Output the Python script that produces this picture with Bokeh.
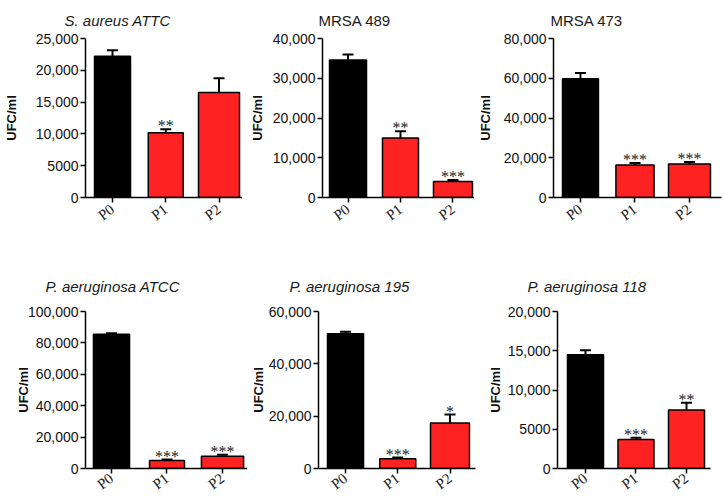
from bokeh.plotting import figure
from bokeh.layouts import column, row
from bokeh.models import (Range1d, FixedTicker, Whisker, TeeHead, ColumnDataSource,
                          LabelSet)
from bokeh.embed import file_html
from bokeh.resources import INLINE

# ---------------- data ----------------
categories = ["P0", "P1", "P2"]
y_label = "UFC/ml"

titles = ["S. aureus ATTC", "MRSA 489", "MRSA 473",
          "P. aeruginosa ATCC", "P. aeruginosa 195", "P. aeruginosa 118"]

means_sa_attc = [22200, 10200, 16500]
err_sa_attc = [950, 550, 2250]
stars_sa_attc = ["", "**", ""]
yticks_sa_attc = [0, 5000, 10000, 15000, 20000, 25000]
ylabels_sa_attc = ["0", "5000", "10,000", "15,000", "20,000", "25,000"]

means_mrsa489 = [34600, 15000, 4000]
err_mrsa489 = [1350, 1650, 400]
stars_mrsa489 = ["", "**", "***"]
yticks_mrsa489 = [0, 10000, 20000, 30000, 40000]
ylabels_mrsa489 = ["0", "10,000", "20,000", "30,000", "40,000"]

means_mrsa473 = [59800, 16400, 16900]
err_mrsa473 = [2800, 1000, 900]
stars_mrsa473 = ["", "***", "***"]
yticks_mrsa473 = [0, 20000, 40000, 60000, 80000]
ylabels_mrsa473 = ["0", "20,000", "40,000", "60,000", "80,000"]

means_pa_atcc = [85500, 5100, 7800]
err_pa_atcc = [700, 600, 1000]
stars_pa_atcc = ["", "***", "***"]
yticks_pa_atcc = [0, 20000, 40000, 60000, 80000, 100000]
ylabels_pa_atcc = ["0", "20,000", "40,000", "60,000", "80,000", "100,000"]

means_pa195 = [51500, 3700, 17400]
err_pa195 = [800, 500, 3200]
stars_pa195 = ["", "***", "*"]
yticks_pa195 = [0, 20000, 40000, 60000]
ylabels_pa195 = ["0", "20,000", "40,000", "60,000"]

means_pa118 = [14500, 3700, 7450]
err_pa118 = [550, 220, 930]
stars_pa118 = ["", "***", "**"]
yticks_pa118 = [0, 5000, 10000, 15000, 20000]
ylabels_pa118 = ["0", "5000", "10,000", "15,000", "20,000"]

panels_data = [
    (means_sa_attc, err_sa_attc, stars_sa_attc, yticks_sa_attc, ylabels_sa_attc),
    (means_mrsa489, err_mrsa489, stars_mrsa489, yticks_mrsa489, ylabels_mrsa489),
    (means_mrsa473, err_mrsa473, stars_mrsa473, yticks_mrsa473, ylabels_mrsa473),
    (means_pa_atcc, err_pa_atcc, stars_pa_atcc, yticks_pa_atcc, ylabels_pa_atcc),
    (means_pa195, err_pa195, stars_pa195, yticks_pa195, ylabels_pa195),
    (means_pa118, err_pa118, stars_pa118, yticks_pa118, ylabels_pa118),
]

# ---------------- styles / layout ----------------
RED = "#FF2222"
bar_colors = ["#000000", RED, RED]
italic_titles = [True, False, False, True, True, True]

layout = [
    dict(fw=157, fh=159, l=84, r=0, t=38, b=61, xmin=-0.507, xmax=2.441,
         widths=[0.676, 0.657, 0.77], lab_so=14, t_off=-21, t_so=19, xso=5),
    dict(fw=152, fh=159, l=80, r=0, t=38, b=61, xmin=-0.486, xmax=2.41,
         widths=[0.705, 0.686, 0.743], lab_so=5, t_off=-4, t_so=19, xso=5),
    dict(fw=168, fh=159, l=77, r=4, t=38, b=61, xmin=-0.495, xmax=2.587,
         widths=[0.66, 0.70, 0.77], lab_so=8, t_off=-3, t_so=19, xso=5),
    dict(fw=162, fh=157, l=85, r=0, t=53, b=32, xmin=-0.468, xmax=2.450,
         widths=[0.65, 0.63, 0.76], lab_so=-6, t_off=-40, t_so=34, xso=3),
    dict(fw=157, fh=157, l=70, r=9, t=53, b=32, xmin=-0.517, xmax=2.488,
         widths=[0.69, 0.69, 0.746], lab_so=0, t_off=-29, t_so=34, xso=3),
    dict(fw=153, fh=157, l=72, r=14, t=53, b=32, xmin=-0.554, xmax=2.475,
         widths=[0.713, 0.713, 0.713], lab_so=2, t_off=-30, t_so=34, xso=3),
]


def make_panel(i):
    means, errs, stars, yticks, ylabels = panels_data[i]
    L = layout[i]
    xs = list(range(len(categories)))
    uppers = [m + e for m, e in zip(means, errs)]
    src = ColumnDataSource(dict(
        x=xs, top=means, upper=uppers, color=bar_colors, width=L["widths"],
    ))
    keep = [k for k, s in enumerate(stars) if s]
    star_src = ColumnDataSource(dict(
        x=[xs[k] for k in keep], y=[uppers[k] for k in keep],
        text=[stars[k] for k in keep],
    ))
    p = figure(frame_width=L["fw"], frame_height=L["fh"], output_backend="svg",
               toolbar_location=None, tools="",
               x_range=Range1d(L["xmin"], L["xmax"]),
               y_range=Range1d(yticks[0], yticks[-1]),
               min_border_left=L["l"], min_border_right=L["r"],
               min_border_top=L["t"], min_border_bottom=L["b"],
               title=titles[i])
    p.outline_line_color = None
    p.background_fill_color = "white"
    p.border_fill_color = "white"
    p.xgrid.visible = False
    p.ygrid.visible = False

    p.title.text_font = "Liberation Sans"
    p.title.text_font_size = "15px"
    p.title.text_font_style = "italic" if italic_titles[i] else "normal"
    p.title.text_color = "#1a1a1a"
    p.title.align = "left"
    p.title.offset = L["t_off"]
    p.title.standoff = L["t_so"]

    p.vbar(x="x", width="width", top="top", bottom=0, source=src,
           fill_color="color", line_color="black", line_width=1.5)

    wh = Whisker(source=src, base="x", lower="top", upper="upper",
                 upper_head=TeeHead(size=11, line_width=2, line_color="black"),
                 lower_head=None, line_width=2, line_color="black",
                 level="annotation")
    p.add_layout(wh)

    stars_lbl = LabelSet(x="x", y="y", text="text", source=star_src,
                         text_align="center", text_baseline="alphabetic",
                         y_offset=-2, text_font="Liberation Sans",
                         text_font_size="16px", text_color="#222222")
    p.add_layout(stars_lbl)

    # x axis
    xa = p.below[0]
    xa.ticker = FixedTicker(ticks=xs)
    xa.major_label_overrides = {k: c for k, c in zip(xs, categories)}
    xa.major_label_orientation = 0.65
    xa.major_label_text_font = "Liberation Serif"
    xa.major_label_text_font_size = "15px"
    xa.major_label_text_color = "#222222"
    xa.major_label_standoff = L["xso"]
    xa.major_tick_in = 0
    xa.major_tick_out = 5
    xa.minor_tick_line_color = None
    xa.axis_line_width = 1.5
    xa.major_tick_line_width = 1.5

    # y axis
    ya = p.left[0]
    ya.ticker = FixedTicker(ticks=yticks)
    ya.major_label_overrides = {t: s for t, s in zip(yticks, ylabels)}
    ya.major_label_text_font = "Liberation Sans"
    ya.major_label_text_font_size = "14px"
    ya.major_label_text_color = "#111111"
    ya.major_label_standoff = 2
    ya.major_tick_in = 0
    ya.major_tick_out = 5
    ya.minor_tick_line_color = None
    ya.axis_line_width = 1.5
    ya.major_tick_line_width = 1.5
    ya.axis_label = y_label
    ya.axis_label_text_font = "Liberation Sans"
    ya.axis_label_text_font_size = "13px"
    ya.axis_label_text_font_style = "bold"
    ya.axis_label_text_color = "#111111"
    ya.axis_label_standoff = L["lab_so"]
    return p


figs = [make_panel(i) for i in range(6)]
page = column(row(*figs[:3]), row(*figs[3:]))
open("out.html", "w").write(file_html(page, INLINE))
